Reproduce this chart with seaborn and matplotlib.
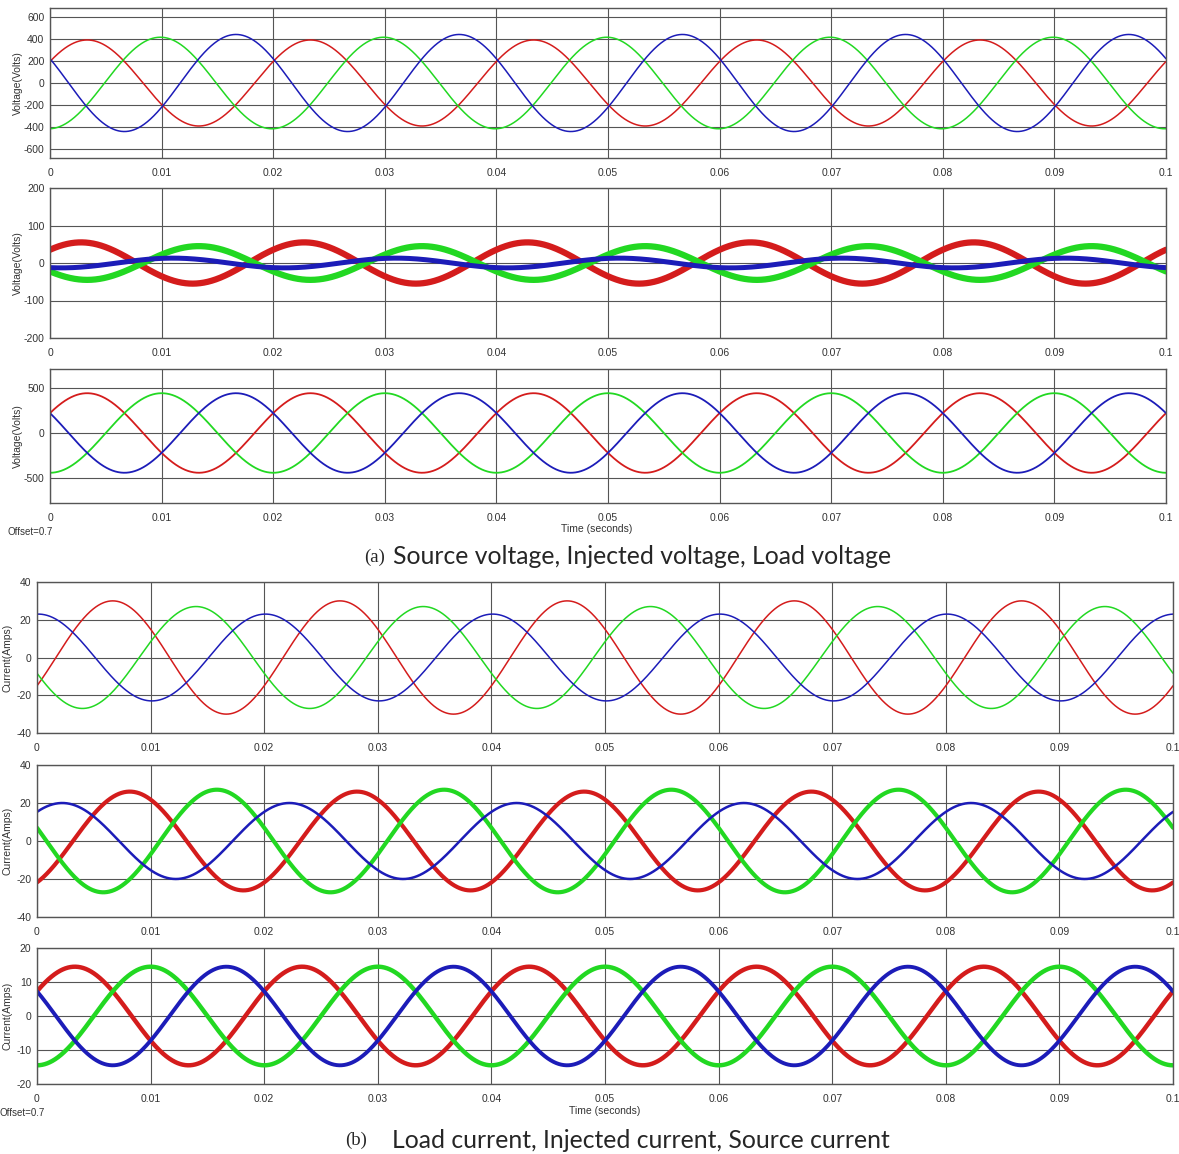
import numpy as np
import pandas as pd
import matplotlib
matplotlib.use("Agg")
import matplotlib.pyplot as plt
import seaborn as sns

# ---------------- data ----------------
freq_hz = 50.0
t_end = 0.1
x_ticks = [0, 0.01, 0.02, 0.03, 0.04, 0.05, 0.06, 0.07, 0.08, 0.09, 0.1]
x_tick_labels = ["0", "0.01", "0.02", "0.03", "0.04", "0.05", "0.06",
                 "0.07", "0.08", "0.09", "0.1"]
phase_names = ["a", "b", "c"]

# peak value and phase angle (deg) of each phase, per scope trace
src_v_amp = [390, 415, 440]
src_v_phase = [30, -88, 150]
inj_v_amp = [55, 45, 13]
inj_v_phase = [40, -150, -108]
load_v_amp = [442, 442, 442]
load_v_phase = [30, -90, 150]
load_i_amp = [30, 27, 23]
load_i_phase = [-30, -162, 88]
inj_i_amp = [26, 27, 20]
inj_i_phase = [-57, 165, 50]
src_i_amp = [14.5, 14.5, 14.5]
src_i_phase = [30, -90, 150]

v_src_yticks = [-600, -400, -200, 0, 200, 400, 600]
v_inj_yticks = [-200, -100, 0, 100, 200]
v_load_yticks = [-500, 0, 500]
i_yticks = [-40, -20, 0, 20, 40]
i_src_yticks = [-20, -10, 0, 10, 20]

# ---------------- style ----------------
sns.set_style("white")
plt.rcParams["font.family"] = ["Liberation Sans", "DejaVu Sans"]

palette = {"a": "#d41c1c", "b": "#22d822", "c": "#1c1cb8"}

W, H = 1179, 1154
fig = plt.figure(figsize=(W / 100, H / 100), dpi=100)


def frame(px_left, px_top, px_right, px_bottom):
    return [px_left / W, 1 - px_bottom / H, (px_right - px_left) / W,
            (px_bottom - px_top) / H]


t = np.linspace(0, t_end, 4001)


def trace_frame(amps, phases):
    rows = []
    for name, a, p in zip(phase_names, amps, phases):
        y = a * np.sin(2 * np.pi * freq_hz * t + np.deg2rad(p))
        rows.append(pd.DataFrame({"t": t, "v": y, "phase": name}))
    return pd.DataFrame(pd.concat(rows, ignore_index=True))


def draw(rect, amps, phases, ylim, yticks, ylabel, widths, labelpad):
    ax = fig.add_axes(rect)
    df = trace_frame(amps, phases)
    for name, lw in zip(phase_names, widths):
        sns.lineplot(data=df[df["phase"] == name], x="t", y="v",
                     color=palette[name], linewidth=lw, ax=ax,
                     legend=False, estimator=None, sort=False)
    ax.set_xlim(0, t_end)
    ax.set_ylim(*ylim)
    ax.set_xticks(x_ticks)
    ax.set_xticklabels(x_tick_labels)
    ax.set_yticks(yticks)
    ax.set_yticklabels([str(v) for v in yticks])
    ax.grid(True, color="#555555", linewidth=0.8)
    ax.set_axisbelow(True)
    ax.tick_params(length=0, labelsize=7.5, labelcolor="#333333",
                   pad=7)
    ax.tick_params(axis="y", pad=4)
    ax.set_xlabel("")
    ax.set_ylabel(ylabel, fontsize=7.5, color="#333333", labelpad=labelpad)
    for s in ax.spines.values():
        s.set_color("#555555")
        s.set_linewidth(1.0)
    return ax


# panel (a)
draw(frame(50, 8, 1166, 158), src_v_amp, src_v_phase, (-680, 680),
     v_src_yticks, "Voltage(Volts)", [1.1, 1.1, 1.1], 0.5)
draw(frame(50, 188, 1166, 338), inj_v_amp, inj_v_phase, (-200, 200),
     v_inj_yticks, "Voltage(Volts)", [4.5, 4.5, 3.6], 0.5)
draw(frame(50, 369, 1166, 503), load_v_amp, load_v_phase, (-778, 711),
     v_load_yticks, "Voltage(Volts)", [1.3, 1.3, 1.3], 0.5)

# panel (b)
draw(frame(37, 582, 1173, 733), load_i_amp, load_i_phase, (-40, 40),
     i_yticks, "Current(Amps)", [1.1, 1.1, 1.1], 3)
draw(frame(37, 765, 1173, 917), inj_i_amp, inj_i_phase, (-40, 40),
     i_yticks, "Current(Amps)", [3.0, 3.0, 1.8], 3)
draw(frame(37, 948, 1173, 1084), src_i_amp, src_i_phase, (-20, 20),
     i_src_yticks, "Current(Amps)", [3.2, 3.2, 2.8], 3)

# annotations
fig.text(597 / W, 1 - 529 / H, "Time (seconds)", ha="center", va="center",
         fontsize=7.5, color="#333333")
fig.text(8 / W, 1 - 532 / H, "Offset=0.7", ha="left", va="center",
         fontsize=7, color="#333333")
fig.text(605 / W, 1 - 1111 / H, "Time (seconds)", ha="center", va="center",
         fontsize=7.5, color="#333333")
fig.text(0 / W, 1 - 1113 / H, "Offset=0.7", ha="left", va="center",
         fontsize=7, color="#333333")

cap_font = ["Lato", "DejaVu Sans"]
fig.text(385 / W, 1 - 557 / H, "(a)", ha="right", va="center",
         fontsize=13.5, family=["Liberation Serif", "DejaVu Serif"])
fig.text(393 / W, 1 - 557 / H, "Source voltage, Injected voltage, Load voltage",
         ha="left", va="center", fontsize=17.8, family=cap_font)
fig.text(367 / W, 1 - 1140 / H, "(b)", ha="right", va="center",
         fontsize=13.5, family=["Liberation Serif", "DejaVu Serif"])
fig.text(392 / W, 1 - 1140 / H, "Load current, Injected current, Source current",
         ha="left", va="center", fontsize=17.8, family=cap_font)

fig.savefig("out.png", dpi=100, facecolor="white")
